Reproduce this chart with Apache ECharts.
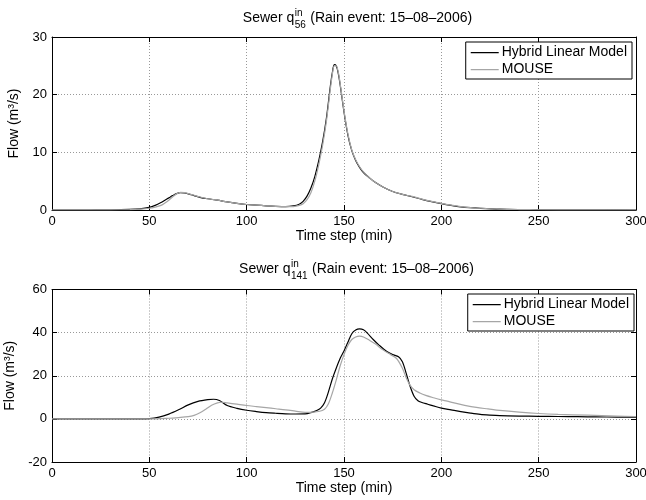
<!DOCTYPE html>
<html>
<head>
<meta charset="utf-8">
<script src="https://cdn.jsdelivr.net/npm/echarts@6/dist/echarts.min.js"></script>
<style>
html,body{margin:0;padding:0;background:#fff;}
#chart{width:646px;height:500px;}
</style>
</head>
<body>
<div id="chart"></div>
<script>
// ---- data ----
var seriesNames = ['Hybrid Linear Model', 'MOUSE'];
var xTicks = [0, 50, 100, 150, 200, 250, 300];
var topYTicks = [0, 10, 20, 30];
var botYTicks = [-20, 0, 20, 40, 60];

var topHybridT = [0,20,30,40,45,50,53,56,58,60,62,64,66,68,70,73,76,80,85,90,95,100,105,110,115,120,124,127,129,131,133,135,137,139,141,143,144,145,146,147,148,150,152,154,156,158,160,163,166,170,175,180,185,190,195,200,205,210,215,220,230,240,250,270,300];
var topHybridV = [0,0,0.02,0.1,0.2,0.45,0.8,1.3,1.7,2.1,2.5,2.85,3.0,2.95,2.8,2.5,2.2,1.95,1.7,1.4,1.15,0.95,0.85,0.72,0.62,0.57,0.7,1.0,1.5,2.4,3.8,5.8,8.5,11.8,16,21.5,23.8,25.2,25,23.8,21.8,17,13,10.3,8.6,7.4,6.5,5.6,4.8,4.0,3.2,2.7,2.3,1.85,1.45,1.1,0.8,0.55,0.4,0.3,0.15,0.08,0.04,0.02,0];

var topMouseT = [0,20,30,40,45,50,53,56,58,60,62,64,66,68,70,73,76,80,85,90,95,100,105,110,115,120,124,127,129,131,133,135,137,139,141,143,144,145,146,147,148,150,152,154,156,158,160,163,166,170,175,180,185,190,195,200,205,210,215,220,230,240,250,270,300];
var topMouseV = [0,0,0.02,0.08,0.15,0.3,0.5,0.8,1.2,1.7,2.3,2.8,3.05,3.0,2.85,2.55,2.25,1.95,1.7,1.4,1.15,0.95,0.85,0.72,0.62,0.57,0.6,0.8,1.1,1.8,3.0,5.0,7.8,11.2,15.5,21,23.5,25.0,25.0,24,22,17.2,13.2,10.4,8.7,7.5,6.6,5.6,4.8,4.0,3.2,2.7,2.35,1.9,1.5,1.15,0.85,0.6,0.42,0.3,0.15,0.08,0.04,0.02,0];

var botHybridT = [0,40,50,55,60,65,70,75,80,83,86,90,95,100,105,110,115,120,125,130,133,136,138,140,142,144,146,148,150,152,154,156,158,160,162,165,168,172,175,178,180,182,184,186,188,190,193,196,200,205,210,215,220,225,230,240,250,260,270,280,290,300];
var botHybridV = [0,0,0.15,0.8,2.2,4.2,6.5,8.1,8.9,9.1,8.5,6.2,4.9,4.0,3.4,2.9,2.6,2.35,2.25,2.3,2.9,3.9,5.0,7.5,12.5,18.5,23.5,28,31.5,35.5,39.5,41.2,41.7,41.3,39.8,36.8,34.2,31.2,29.8,28.8,26.5,21,15,10.5,8.4,7.6,6.8,6.0,5.0,4.2,3.4,2.7,2.1,1.75,1.5,1.3,1.2,1.1,1.0,0.9,0.85,0.8];

var botMouseT = [0,50,60,65,70,73,76,79,82,85,87,90,95,100,105,110,115,120,125,130,134,137,140,142,144,146,148,150,152,154,156,158,160,163,166,170,174,177,180,182,184,186,189,192,196,200,203,206,212,218,224,230,240,250,260,275,290,300];
var botMouseV = [0,0,0.3,0.6,1.0,1.6,2.8,4.5,6.3,7.4,7.7,7.4,6.8,6.2,5.7,5.2,4.7,4.2,3.6,3.0,3.1,3.4,4.5,7,12,18,24.5,29.8,34,36.8,38,38.4,38,36.5,34.8,32,29.8,28,23.5,19,15.5,13.5,12,10.9,9.8,8.8,8.2,7.5,6.3,5.3,4.6,3.9,3.1,2.5,2.1,1.7,1.3,1.1];

var titleMain = 'Sewer q';
var titleSup = 'in';
var topSub = '56';
var botSub = '141';
var titleRest = ' (Rain event: 15\u201308\u20132006)';
var xName = 'Time step (min)';
var yName = 'Flow (m\u00B3/s)';

// ---- build ----
function zip(t, v) { return t.map(function (x, i) { return [x, v[i]]; }); }

var FONT = 'Liberation Sans, Arial, Helvetica, sans-serif';
var FS = 14;
var TFS = 13;
var BLACK = '#000';
var GRAY = '#a6a6a6';
var LEG_ICON = 'path://M0,0L0.01,0L0,0.01Z M0,7L28,7L28,8.2L0,8.2Z M0,15L0.01,15L0,15.01Z';

var mctx = document.createElement('canvas').getContext('2d');
function tw(text, size) { mctx.font = size + 'px "Liberation Sans"'; return mctx.measureText(text).width; }

function titleGraphics(cx, cy, sub) {
  var w1 = tw(titleMain, FS), w2 = Math.max(tw(titleSup, 10), tw(sub, 10)), w3 = tw(titleRest, FS);
  var x0 = cx - (w1 + w2 + w3) / 2;
  function t(x, y, text, size) {
    return { type: 'text', x: x, y: y, silent: true,
      style: { text: text, font: size + 'px ' + FONT, fill: '#000', textAlign: 'left', textVerticalAlign: 'middle', align: 'left', verticalAlign: 'middle' } };
  }
  return [
    t(x0, cy, titleMain, FS),
    t(x0 + w1 + 0.5, cy - 5, titleSup, 10),
    t(x0 + w1 + 0.5, cy + 7, sub, 10),
    t(x0 + w1 + w2 + 1, cy, titleRest, FS)
  ];
}

function xAxes(gi, nameGap) {
  var common = { type: 'value', gridIndex: gi, min: 0, max: 300, interval: 50,
    axisLine: { show: true, onZero: false, lineStyle: { color: BLACK, width: 1 } },
    axisTick: { show: true, inside: true, length: 5, lineStyle: { color: BLACK } } };
  return [
    Object.assign({}, common, { position: 'bottom',
      name: xName, nameLocation: 'middle', nameGap: nameGap,
      nameTextStyle: { fontFamily: FONT, fontSize: FS, color: BLACK },
      axisLabel: { show: true, margin: 5, fontFamily: FONT, fontSize: TFS, color: BLACK },
      splitLine: { show: true, lineStyle: { color: '#999', type: [1, 2], width: 1 } } }),
    Object.assign({}, common, { position: 'top', axisLabel: { show: false }, splitLine: { show: false } })
  ];
}
function yAxes(gi, min, max, interval) {
  var common = { type: 'value', gridIndex: gi, min: min, max: max, interval: interval,
    axisLine: { show: true, onZero: false, lineStyle: { color: BLACK, width: 1 } },
    axisTick: { show: true, inside: true, length: 5, lineStyle: { color: BLACK } } };
  return [
    Object.assign({}, common, { position: 'left',
      name: yName, nameLocation: 'middle', nameGap: 30, nameRotate: 90,
      nameTextStyle: { fontFamily: FONT, fontSize: FS, color: BLACK },
      axisLabel: { show: true, margin: 5, fontFamily: FONT, fontSize: TFS, color: BLACK },
      splitLine: { show: true, lineStyle: { color: '#999', type: [1, 2], width: 1 } } }),
    Object.assign({}, common, { position: 'right', axisLabel: { show: false }, splitLine: { show: false } })
  ];
}
function line(name, data, xi, yi, color, w, z) {
  return { type: 'line', name: name, data: data, xAxisIndex: xi, yAxisIndex: yi,
    showSymbol: false, symbol: 'none', smooth: 0.3, z: z,
    lineStyle: { color: color, width: w }, itemStyle: { color: color }, animation: false };
}
function legend(top, right) {
  return { top: top, right: right, orient: 'vertical',
    data: seriesNames.map(function (n) { return { name: n, icon: LEG_ICON }; }),
    backgroundColor: '#fff', borderColor: BLACK, borderWidth: 1, borderRadius: 0,
    padding: [3, 5, 2, 5], itemGap: 2, itemWidth: 28, itemHeight: 15,
    textStyle: { fontFamily: FONT, fontSize: FS, color: BLACK, padding: [0, 0, 0, -2] }, selectedMode: false };
}

var option = {
  backgroundColor: '#fff',
  animation: false,
  grid: [
    { left: 52, right: 10, top: 37, height: 173, containLabel: false, outerBoundsMode: 'none' },
    { left: 52, right: 10, top: 289.5, height: 172.5, containLabel: false, outerBoundsMode: 'none' }
  ],
  xAxis: xAxes(0, 9).concat(xAxes(1, 11)),
  yAxis: yAxes(0, 0, 30, 10).concat(yAxes(1, -20, 60, 20)),
  legend: [legend(42, 14), legend(294, 12)],
  series: [
    line(seriesNames[0], zip(topHybridT, topHybridV), 0, 0, BLACK, 1.2, 2),
    line(seriesNames[1], zip(topMouseT, topMouseV), 0, 0, GRAY, 1.2, 3),
    line(seriesNames[0], zip(botHybridT, botHybridV), 2, 2, BLACK, 1.2, 2),
    line(seriesNames[1], zip(botMouseT, botMouseV), 2, 2, GRAY, 1.2, 3)
  ],
  graphic: titleGraphics(357, 18, topSub).concat(titleGraphics(356, 269, botSub))
};

var chart = echarts.init(document.getElementById('chart'), null, { renderer: 'canvas' });
chart.setOption(option);
</script>
</body>
</html>
